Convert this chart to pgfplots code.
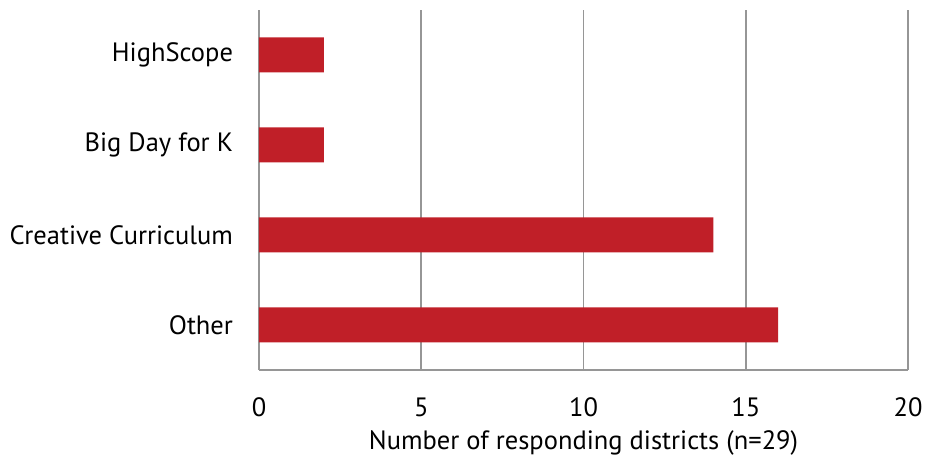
\documentclass[border=0pt]{standalone}
\usepackage{pgfplots}
\pgfplotsset{compat=1.18}
\usepackage{fontspec}
\setmainfont{PT Sans}
\definecolor{barred}{HTML}{C01F28}
\definecolor{gridgray}{HTML}{969696}
\begin{document}
\fontsize{26.5pt}{30pt}\selectfont
\begin{tikzpicture}
\begin{axis}[
  scale only axis,
  width=649pt, height=360pt,
  xbar,
  bar width=35pt,
  xmin=0, xmax=20,
  ymin=-0.5, ymax=3.5,
  xtick={0,5,10,15,20},
  ytick={0,1,2,3},
  yticklabels={Other, Creative Curriculum, Big Day for K, HighScope},
  axis x line*=bottom,
  axis y line*=left,
  axis line style={gridgray, line width=1.8pt},
  xmajorgrids,
  major grid style={gridgray, line width=1.8pt},
  major tick length=0pt,
  tick style={draw=none},
  /pgf/number format/assume math mode=true,
  ticklabel style={font=\fontsize{26.5pt}{30pt}\selectfont},
  xticklabel style={yshift=-19pt},
  yticklabel style={xshift=-17pt},
  xlabel={Number of responding districts (n=29)},
  xlabel style={font=\fontsize{26.5pt}{30pt}\selectfont, yshift=4pt},
]
\addplot[fill=barred, draw=none] coordinates {(16,0) (14,1) (2,2) (2,3)};
\coordinate (sw) at (rel axis cs:0,0);
\coordinate (ne) at (rel axis cs:1,1);
\end{axis}
\pgfresetboundingbox
\path ([shift={(-259pt,-86pt)}]sw) rectangle ([shift={(17pt,10pt)}]ne);
\end{tikzpicture}
\end{document}
